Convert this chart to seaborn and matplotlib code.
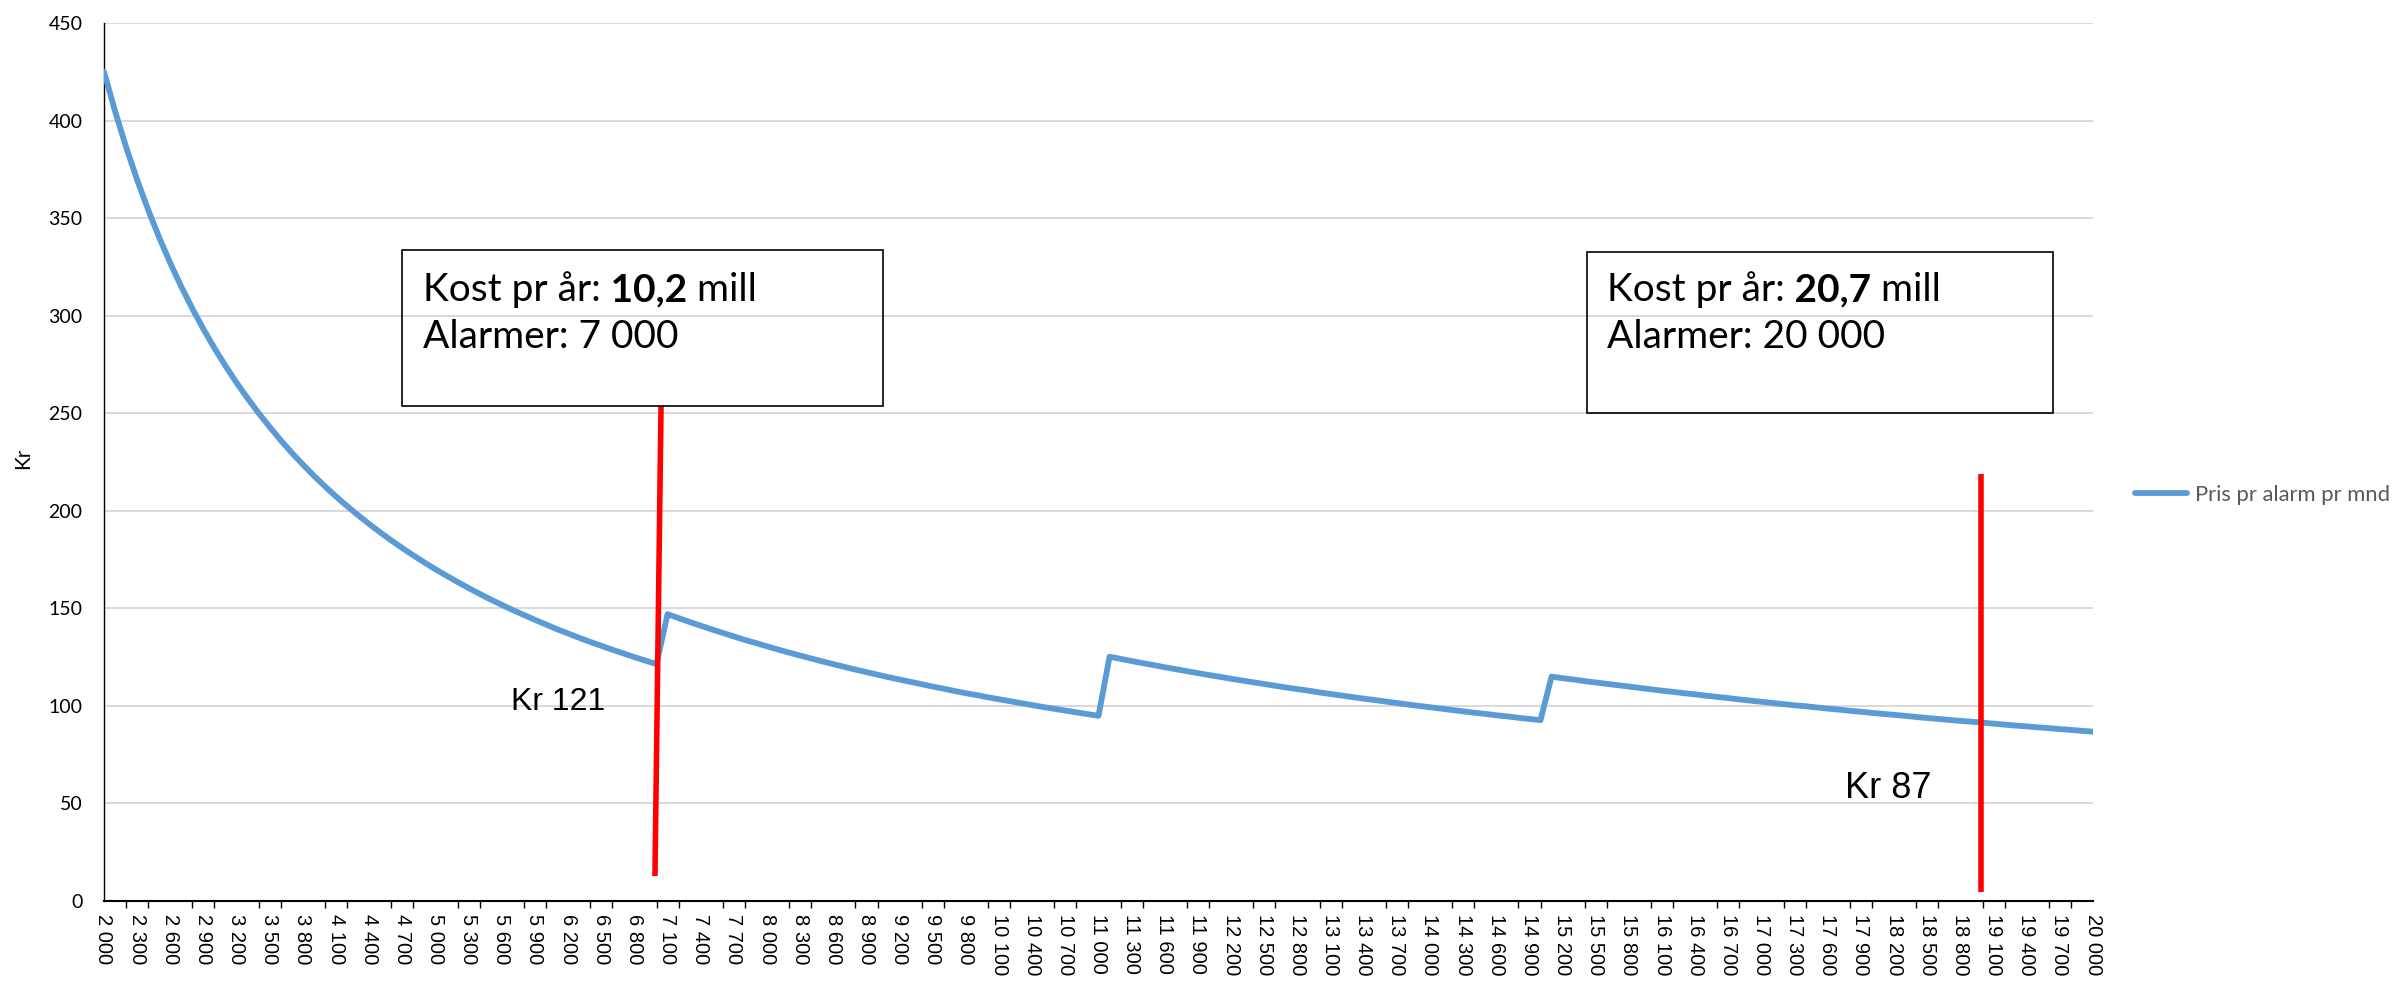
import matplotlib
matplotlib.use("Agg")
import matplotlib.pyplot as plt
from matplotlib.lines import Line2D
from matplotlib.patches import Rectangle
import seaborn as sns
import pandas as pd

# Antall alarmer (kategoriakse, steg på 100)
alarmer = list(range(2000, 20001, 100))

# Pris pr alarm pr mnd (kr), ett trinn pr kostnadsnivå
pris_2000_7000 = [
    425.0, 404.8, 386.4, 369.6, 354.2, 340.0, 326.9, 314.8, 303.6, 293.1,
    283.3, 274.2, 265.6, 257.6, 250.0, 242.9, 236.1, 229.7, 223.7, 217.9,
    212.5, 207.3, 202.4, 197.7, 193.2, 188.9, 184.8, 180.9, 177.1, 173.5,
    170.0, 166.7, 163.5, 160.4, 157.4, 154.5, 151.8, 149.1, 146.6, 144.1,
    141.7, 139.3, 137.1, 134.9, 132.8, 130.8, 128.8, 126.9, 125.0, 123.2,
    121.4,
]
pris_7100_11000 = [
    147.0, 145.0, 143.0, 141.1, 139.2, 137.4, 135.6, 133.8, 132.2, 130.5,
    128.9, 127.3, 125.8, 124.3, 122.8, 121.4, 120.0, 118.6, 117.3, 116.0,
    114.7, 113.5, 112.3, 111.1, 109.9, 108.8, 107.6, 106.5, 105.5, 104.4,
    103.4, 102.4, 101.4, 100.4, 99.4, 98.5, 97.6, 96.7, 95.8, 94.9,
]
pris_11100_15000 = [
    125.2, 124.1, 123.0, 121.9, 120.9, 119.8, 118.8, 117.8, 116.8, 115.8,
    114.9, 113.9, 113.0, 112.1, 111.2, 110.3, 109.4, 108.6, 107.8, 106.9,
    106.1, 105.3, 104.5, 103.7, 103.0, 102.2, 101.5, 100.7, 100.0, 99.3,
    98.6, 97.9, 97.2, 96.5, 95.9, 95.2, 94.6, 93.9, 93.3, 92.7,
]
pris_15100_20000 = [
    115.0, 114.2, 113.5, 112.7, 112.0, 111.3, 110.6, 109.9, 109.2, 108.5,
    107.8, 107.2, 106.5, 105.9, 105.2, 104.6, 104.0, 103.3, 102.7, 102.1,
    101.5, 100.9, 100.3, 99.8, 99.2, 98.6, 98.1, 97.5, 97.0, 96.4,
    95.9, 95.4, 94.9, 94.3, 93.8, 93.3, 92.8, 92.3, 91.9, 91.4,
    90.9, 90.4, 89.9, 89.5, 89.0, 88.6, 88.1, 87.7, 87.2, 86.8,
]
pris = pris_2000_7000 + pris_7100_11000 + pris_11100_15000 + pris_15100_20000

serie_navn = "Pris pr alarm pr mnd"
y_tikker = list(range(0, 451, 50))
x_etiketter = list(range(2000, 20001, 300))
x_streker = list(range(2000, 20001, 200))

df = pd.DataFrame({"Alarmer": alarmer, serie_navn: pris})

sns.set_theme(style="white")
plt.rcParams["font.family"] = ["Lato", "DejaVu Sans"]

BLA = "#5B9BD5"
ROD = "#FF0000"

fig = plt.figure(figsize=(23.95, 9.83), dpi=100)
ax = fig.add_axes([104 / 2395, 1 - 901 / 983, (2093 - 104) / 2395, (901 - 23) / 983])

sns.lineplot(data=df, x="Alarmer", y=serie_navn, ax=ax, color=BLA,
             linewidth=4.2, legend=False, zorder=3)
for ln in ax.lines:
    ln.set_solid_capstyle("round")
    ln.set_solid_joinstyle("round")

ax.set_xlim(2000, 20000)
ax.set_ylim(0, 450)
ax.set_xlabel("")
ax.set_ylabel("")

# Y-akse
ax.set_yticks(y_tikker)
ax.set_yticklabels([str(v) for v in y_tikker], fontsize=14, color="black")
ax.tick_params(axis="y", which="both", left=False, length=0, pad=15.5)
ax.yaxis.grid(True, color="#D9D9D9", linewidth=1.4)
ax.xaxis.grid(False)
ax.set_axisbelow(True)

# X-akse: etiketter hver 300, streker hver 200
ax.set_xticks(x_etiketter)
ax.set_xticklabels([f"{v:,}".replace(",", " ") for v in x_etiketter],
                   rotation=-90, fontsize=14.5, family="Liberation Sans",
                   color="black")
ax.set_xticks(x_streker, minor=True)
ax.tick_params(axis="x", which="major", bottom=True, length=0, pad=9)
ax.tick_params(axis="x", which="minor", bottom=True, length=5, width=1.0,
               color="black", direction="out")

for s in ("top", "right"):
    ax.spines[s].set_visible(False)
ax.spines["left"].set_color("black")
ax.spines["left"].set_linewidth(1.0)
ax.spines["bottom"].set_color("black")
ax.spines["bottom"].set_linewidth(1.5)

# Røde markeringslinjer
ax.plot([6986, 7041], [12.8, 253.7], color=ROD, linewidth=4.0,
        solid_capstyle="butt", zorder=5)
ax.plot([18990, 18990], [4.6, 219.0], color=ROD, linewidth=4.0,
        solid_capstyle="butt", zorder=5)

# Tekstbokser
def tekstboks(x0, x1, y0, y1, tx, linje1_fet, antall):
    ax.add_patch(Rectangle((x0, y0), x1 - x0, y1 - y0, fill=False,
                           edgecolor="black", linewidth=1.2, zorder=6))
    t1 = ax.text(tx, 313.5, "Kost pr år:", ha="left", va="center",
                 fontsize=28, color="black", zorder=7)
    t2 = ax.annotate(" " + linje1_fet, xy=(1, 0), xycoords=t1, ha="left",
                     va="bottom", fontsize=28, fontweight="bold",
                     color="black", zorder=7)
    ax.annotate(" mill", xy=(1, 0), xycoords=t2, ha="left", va="bottom",
                fontsize=28, color="black", zorder=7)
    ax.text(tx, 289.0, f"Alarmer: {antall}", ha="left", va="center",
            fontsize=28, color="black", zorder=7)

tekstboks(4697, 9050, 253.9, 333.7, 4887, "10,2", "7 000")
tekstboks(15421, 19638, 250.1, 332.6, 15602, "20,7", "20 000")

ax.text(6109, 102.0, "Kr 121", ha="center", va="center", fontsize=23,
        family="Liberation Sans", color="black", zorder=7)
ax.text(18145, 57.7, "Kr 87", ha="center", va="center", fontsize=26,
        family="Liberation Sans", color="black", zorder=7)

# Aksetittel og forklaring
fig.text(23 / 2395, 1 - 458 / 983, "Kr", rotation=90, ha="center",
         va="center", fontsize=15, color="black")

handle = Line2D([], [], color=BLA, linewidth=4.2, solid_capstyle="round")
fig.legend(handles=[handle], labels=[serie_navn], loc="center left",
           bbox_to_anchor=(2135 / 2395, 1 - 495 / 983), frameon=False,
           borderpad=0, borderaxespad=0, handlelength=2.37,
           handletextpad=0.37, prop={"family": "Lato", "size": 15.8},
           labelcolor="#595959")

fig.savefig("out.png", dpi=100, facecolor="white")
